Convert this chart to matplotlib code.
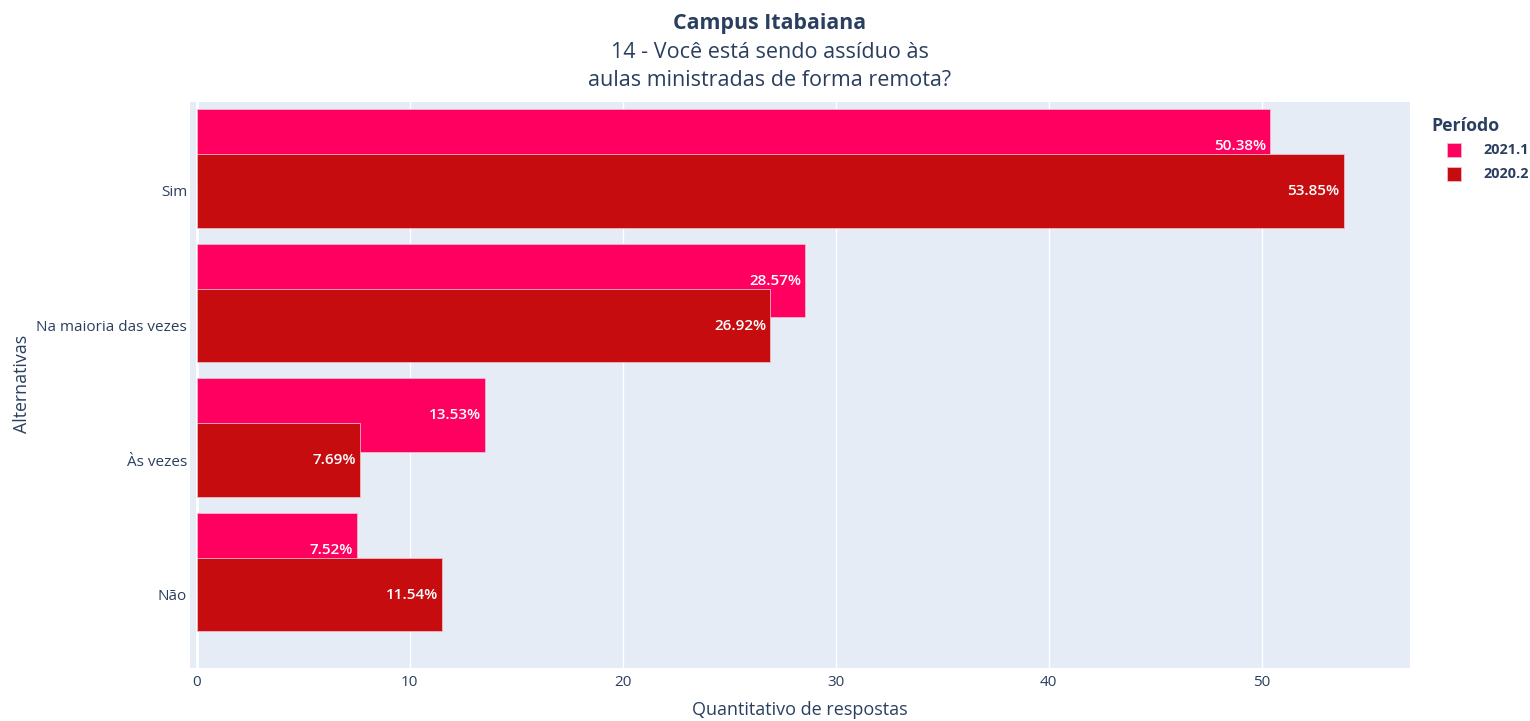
import matplotlib
matplotlib.use("Agg")
import matplotlib.pyplot as plt
from matplotlib.patches import Rectangle
import numpy as np

plt.rcParams['font.family'] = ['Open Sans', 'DejaVu Sans']

categorias = ['Sim', 'Na maioria das vezes', 'Às vezes', 'Não']
periodos = ['2021.1', '2020.2']
perc_2021_1 = [50.38, 28.57, 13.53, 7.52]
perc_2020_2 = [53.85, 26.92, 7.69, 11.54]
cores = {'2021.1': '#FF0060', '2020.2': '#C70C10'}

TXT = '#2a3f5f'
W, H = 1530, 721

fig = plt.figure(figsize=(W / 100, H / 100), dpi=100)
ax = fig.add_axes([190 / W, (H - 668) / H, 1220 / W, 566 / H])
ax.set_facecolor('#E5ECF6')
for s in ax.spines.values():
    s.set_visible(False)

y = np.arange(len(categorias))
altura = 0.545
desloc = 0.334

# 2021.1 sits slightly above and is partly covered by 2020.2
series = [('2021.1', perc_2021_1, y - desloc), ('2020.2', perc_2020_2, y)]
for nome, vals, pos in series:
    ax.barh(pos, vals, height=altura, color=cores[nome],
            edgecolor='#F2B8C8', linewidth=0.6, zorder=3, label=nome)

for nome, vals, pos in series:
    for v, p in zip(vals, pos):
        ax.annotate(f'{v:.2f}%', xy=(v, p), xytext=(-4, 0),
                    textcoords='offset pixels', ha='right', va='center',
                    color='white', fontsize=11, fontweight='semibold',
                    zorder=5)

ax.set_xlim(-0.31, 56.96)
ax.set_ylim(3.545, -0.661)
ax.set_xticks(range(0, 51, 10))
ax.set_yticks(y)
ax.set_yticklabels(categorias)
ax.tick_params(axis='both', length=0, colors=TXT, labelsize=11)
ax.tick_params(axis='y', pad=2)
ax.tick_params(axis='x', pad=5)
ax.grid(axis='x', color='white', linewidth=1, zorder=0)
ax.axvline(0, color='white', linewidth=2, zorder=1)
ax.set_axisbelow(True)

fig.text(800 / W, 1 - 710 / H, 'Quantitativo de respostas', ha='center',
         va='center', color=TXT, fontsize=13)
fig.text(22 / W, 1 - 384 / H, 'Alternativas', ha='center', va='center',
         rotation=90, color=TXT, fontsize=12.8)

fig.text(770 / W, 1 - 23 / H, 'Campus Itabaiana', ha='center', va='center',
         color=TXT, fontsize=15.4, fontweight='bold')
fig.text(770 / W, 1 - 52 / H, '14 - Você está sendo assíduo às', ha='center',
         va='center', color=TXT, fontsize=15.5)
fig.text(770 / W, 1 - 80 / H, 'aulas ministradas de forma remota?', ha='center',
         va='center', color=TXT, fontsize=15.5)

# legend
fig.text(1431 / W, 1 - 126 / H, 'Período', ha='left', va='center',
         color=TXT, fontsize=12.8, fontweight='bold')
for i, nome in enumerate(periodos):
    cy = 150 + 24 * i
    fig.add_artist(Rectangle((1447 / W, 1 - (cy + 7) / H), 14 / W, 14 / H,
                             transform=fig.transFigure, facecolor=cores[nome],
                             edgecolor='#F2B8C8', linewidth=0.6))
    fig.text(1483 / W, 1 - cy / H, nome, ha='left', va='center',
             color=TXT, fontsize=10.4, fontweight='bold')

fig.savefig('out.png', dpi=100)
